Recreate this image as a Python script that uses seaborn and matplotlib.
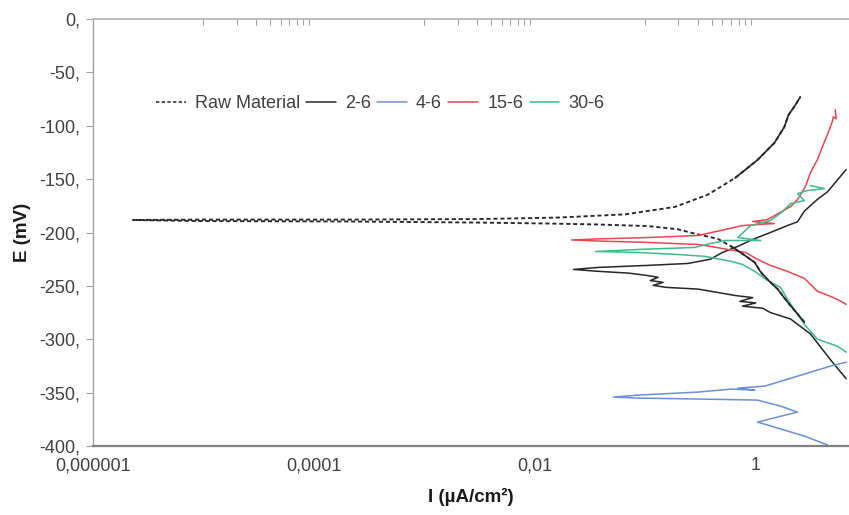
"""
Duong cong phan cuc (Tafel) - E (mV) theo I (uA/cm2), truc x log.
"""
import matplotlib
matplotlib.use("Agg")
import matplotlib.pyplot as plt
from matplotlib.ticker import FixedLocator, NullFormatter
import numpy as np
import pandas as pd
import seaborn as sns

# Du lieu doc tu hinh: I (uA/cm2), E (mV)
# moi mau: nhanh catot (tu dau xa) -> Ecorr -> nhanh anot
raw_i = [2.76, 1.94, 1.58, 1.28, 1.11, 0.98, 0.76, 0.60, 0.455, 0.28,
         0.198, 0.106, 0.038, 0.0134, 0.0031, 2.1e-4, 9.4e-6, 2.3e-6,
         9.4e-6, 2.1e-4, 0.0031, 0.0164, 0.066, 0.186, 0.37, 0.65, 1.04, 1.48,
         1.82, 1.98, 2.24, 2.54]
raw_e = [-284, -265, -253, -244, -237, -228, -220, -213, -206, -201,
         -197, -194, -192.5, -191.6, -190.7, -189.7, -189.3, -188.3,
         -187.9, -187.9, -187.4, -186, -183, -176, -164.5, -149, -132, -116,
         -101, -90, -82, -73]

s26_i = [6.6, 4.74, 3.13, 2.07, 1.36, 1.16, 0.76, 1.0, 0.72, 0.94,
         0.65, 0.39, 0.30, 0.198, 0.155, 0.118, 0.145, 0.111, 0.131, 0.1,
         0.070, 0.038, 0.0224, 0.038, 0.106, 0.244, 0.39, 0.50, 0.69, 0.94,
         1.36, 1.94, 2.39, 2.76, 3.62, 4.46, 5.48, 6.6]
s26_e = [-337, -319, -295, -281, -275, -271, -269, -266, -264.5, -261,
         -259, -255, -253, -252, -251.4, -249.5, -246.7, -245, -242, -240,
         -238, -236.4, -234.6, -232.7, -230.8, -229, -225, -218.7, -213, -206.5,
         -200, -193.5, -190, -180, -169, -162, -151, -141]

s46_i = [4.46, 2.76, 1.68, 1.04, 2.39, 1.68, 1.04, 0.30, 0.0865, 0.0515,
         0.0865, 0.30, 0.60, 0.98, 0.69, 1.21, 2.39, 4.74, 6.6]
s46_e = [-399, -390.7, -384, -377.6, -368.2, -362.6, -357, -356, -355.1, -354.2,
         -352.3, -349.5, -346.7, -347.6, -345.8, -343.9, -334.6, -325.2, -321.5]

s156_i = [6.6, 5.48, 4.74, 3.62, 2.76, 1.94, 1.36, 1.04, 0.81, 0.56,
          0.39, 0.30, 0.106, 0.038, 0.0215, 0.038, 0.106, 0.30, 0.53, 0.76,
          1.48, 0.94, 1.28, 2.07, 2.39, 2.82, 3.13, 3.62, 4.02, 4.28,
          4.64, 4.94, 5.05, 5.37, 5.25]
s156_e = [-267.3, -262.6, -259.8, -255, -243, -236.4, -230.8, -225.2, -218.7, -215.9,
          -213, -211.2, -209.3, -208, -207, -206, -204.7, -202.8, -197.2, -193.5,
          -191.6, -189.7, -187.9, -175.7, -169.2, -157, -144, -131.8, -119.6, -113,
          -103.7, -96.3, -91.6, -93.5, -85]

s306_i = [6.6, 5.48, 3.62, 2.76, 2.24, 1.94, 1.68, 1.28, 0.98, 0.76,
          0.60, 0.35, 0.198, 0.0865, 0.0355, 0.0865, 0.28, 0.39, 0.53, 1.11,
          0.69, 0.90, 1.36, 1.75, 2.07, 2.76, 2.39, 2.94, 4.19, 3.13]
s306_e = [-312, -306.5, -300, -286, -272, -262.6, -251.4, -244.9, -236.4, -229.9,
          -227.1, -222.4, -220.6, -218.7, -217.8, -215.9, -214, -210.3, -207.5, -207.5,
          -204.7, -193.5, -188.8, -180.4, -172.9, -170.1, -163.6, -160.7, -158.9, -156]

SERIES = ["Raw Material", "2-6", "4-6", "15-6", "30-6"]
COLORS = {"Raw Material": "#262626", "2-6": "#262626", "4-6": "#6b8fd4",
          "15-6": "#e5484f", "30-6": "#3dbb8a"}
DASHES = {"Raw Material": (2.2, 1.5), "2-6": "", "4-6": "", "15-6": "", "30-6": ""}
WIDTHS = {"Raw Material": 1.35, "2-6": 1.1, "4-6": 1.1, "15-6": 1.1, "30-6": 1.1}

x_ticks = [1e-6, 1e-4, 1e-2, 1]
x_tick_labels = ["0,000001", "0,0001", "0,01", "1"]
y_ticks = list(range(-400, 1, 50))
y_tick_labels = [f"{v}," for v in y_ticks]


def main():
    sns.set_theme(style="white")
    plt.rcParams["font.family"] = ["Liberation Sans", "DejaVu Sans"]

    frames = []
    for name, xi, ei in zip(SERIES, [raw_i, s26_i, s46_i, s156_i, s306_i],
                            [raw_e, s26_e, s46_e, s156_e, s306_e]):
        frames.append(pd.DataFrame({"I": xi, "E": ei, "Sample": name}))
    df = pd.concat(frames, ignore_index=True)

    fig = plt.figure(figsize=(8.49, 5.15), dpi=100)
    ax = fig.add_axes([93 / 849, 69 / 515, 756 / 849, 427 / 515])

    sns.lineplot(data=df, x="I", y="E", hue="Sample", style="Sample",
                 hue_order=SERIES, style_order=SERIES, palette=COLORS,
                 dashes=DASHES, sort=False, estimator=None, linewidth=1.1, ax=ax)
    # do day rieng cho tung duong
    for line, name in zip(ax.get_lines(), SERIES):
        line.set_linewidth(WIDTHS[name])

    # phan doc cua Raw Material trong hinh goc hien thi lien net
    raw_i_arr = np.array(raw_i)
    steep_e = np.where(raw_i_arr >= 0.6, np.array(raw_e, dtype=float), np.nan)
    ax.plot(raw_i_arr, steep_e, color=COLORS["Raw Material"], lw=1.2, label="_nolegend_")

    ax.set_xscale("log")
    ax.set_xlim(1e-6, 7.0)
    ax.set_ylim(-400, 0)

    ax.set_xticks(x_ticks)
    ax.set_xticklabels(x_tick_labels)
    minor = [k * 10.0 ** n for n in (-5, -3, -1) for k in range(1, 10)]
    ax.xaxis.set_minor_locator(FixedLocator(minor))
    ax.xaxis.set_minor_formatter(NullFormatter())
    ax.set_yticks(y_ticks)
    ax.set_yticklabels(y_tick_labels)

    ax.tick_params(axis="x", which="major", bottom=True, top=False, length=0,
                   pad=8, labelsize=13, labelcolor="#404040")
    ax.tick_params(axis="x", which="minor", bottom=False, top=True, direction="in",
                   length=4, width=0.8, color="#a0a0a0")
    ax.tick_params(axis="y", which="major", left=True, direction="out", length=5,
                   width=0.8, color="#a0a0a0", pad=4, labelsize=13, labelcolor="#404040")

    ax.spines["right"].set_visible(False)
    ax.spines["top"].set_color("#b0b0b0")
    ax.spines["top"].set_linewidth(1.2)
    ax.spines["left"].set_color("#a0a0a0")
    ax.spines["left"].set_linewidth(1.0)
    ax.spines["bottom"].set_color("#808080")
    ax.spines["bottom"].set_linewidth(1.6)

    ax.set_xlabel("I (µA/cm²)", fontsize=13.5, fontweight="bold", color="#1a1a1a", labelpad=10)
    ax.set_ylabel("E (mV)", fontsize=13.5, fontweight="bold", color="#1a1a1a", labelpad=6)

    sns.move_legend(ax, "center left", bbox_to_anchor=(0.083, 0.801), ncol=5,
                    frameon=False, title=None, borderpad=0, borderaxespad=0,
                    handlelength=1.65, handletextpad=0.5, columnspacing=0.35,
                    fontsize=13, labelcolor="#404040")

    fig.savefig("out.png", dpi=100)
    plt.close(fig)


if __name__ == "__main__":
    main()
